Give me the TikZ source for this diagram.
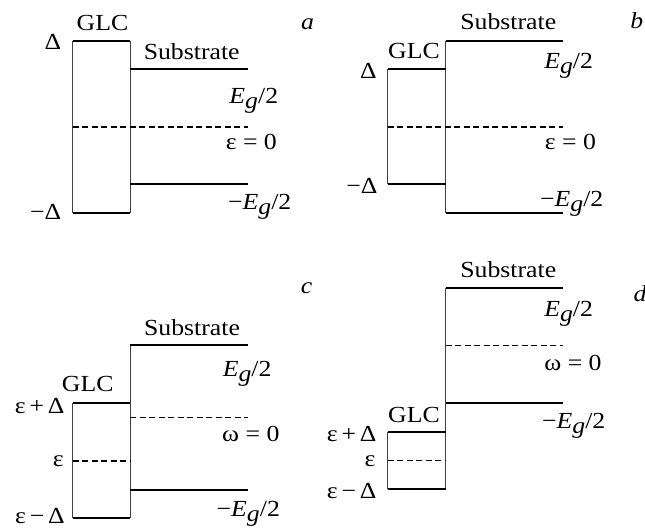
\documentclass[tikz,border=0pt]{standalone}
\usepackage{fontspec}
\setmainfont[FakeStretch=1.12]{Liberation Serif}
\usetikzlibrary{positioning}
\newcommand{\halfgap}{\textit{E}\raisebox{-0.45ex}{\textit{g}}/2}

\begin{document}
\begin{tikzpicture}[
    x=1pt, y=-1pt,
    level/.style={line width=1.7pt},
    wall/.style={line width=1pt, draw=black!75},
    zero/.style={line width=1.2pt, dash pattern=on 6pt off 3.5pt},
    lbl/.style={anchor=base, inner sep=0pt, font=\fontsize{23}{25}\selectfont},
    tag/.style={lbl, font=\fontsize{23}{25}\selectfont\itshape}
]
\useasboundingbox (0,0) rectangle (645,529);

% a
\draw[wall] (72.7,40.7) -- (72.7,213.3);
\draw[wall] (130,40.7) -- (130,213.3);
\draw[level] (72.7,40.7) -- (130,40.7);
\draw[level] (72.7,213.3) -- (130,213.3);
\draw[level] (130,69.3) -- (247.7,69.3);
\draw[level] (130,184.3) -- (247.7,184.3);
\draw[zero] (72.7,127) -- (247.7,127);
\node[lbl] (aglc) at (102.5,30.7) {GLC};
\node[lbl] (atop) at (53,50) {Δ};
\node[lbl] (abot) at (45.7,220) {−Δ};
\node[lbl] (asub) at (191.7,60) {Substrate};
\node[lbl] (aeg)  at (253.8,104) {\halfgap};
\node[lbl] (amid) at (251.3,150) {ε = 0};
\node[lbl] (aegm) at (259.7,210) {−\halfgap};
\node[tag] (atag) at (307.5,29.3) {a};

% b
\draw[wall] (387.7,69.3) -- (387.7,184.3);
\draw[wall] (445.7,40.7) -- (445.7,213.3);
\draw[level] (387.7,69.3) -- (445.7,69.3);
\draw[level] (387.7,184.3) -- (445.7,184.3);
\draw[level] (445.7,40.7) -- (563.3,40.7);
\draw[level] (445.7,213.3) -- (563.3,213.3);
\draw[zero] (387.7,127) -- (563.3,127);
\node[lbl] (bsub) at (508.3,30) {Substrate};
\node[lbl] (bglc) at (414,58.3) {GLC};
\node[lbl] (btop) at (368.5,79) {Δ};
\node[lbl] (bbot) at (362,193.3) {−Δ};
\node[lbl] (beg)  at (568.7,68.3) {\halfgap};
\node[lbl] (bmid) at (570.5,150) {ε = 0};
\node[lbl] (begm) at (571.7,206.7) {−\halfgap};
\node[tag] (btag) at (636.7,28.3) {b};

% c
\draw[wall] (72.7,403.3) -- (72.7,517.7);
\draw[wall] (130,345) -- (130,517.7);
\draw[level] (72.7,403.3) -- (130,403.3);
\draw[level] (72.7,517.7) -- (130,517.7);
\draw[level] (130,345) -- (247.7,345);
\draw[level] (130,490) -- (247.7,490);
\draw[zero] (72.7,461) -- (130,461);
\draw[zero] (130,417.3) -- (247.7,417.3);
\node[lbl] (csub) at (192,335) {Substrate};
\node[lbl] (cglc) at (87.7,391.7) {GLC};
\node[lbl] (ctop) at (39.7,413.3) {ε\,+\,Δ};
\node[lbl] (cmid) at (58.3,466) {ε};
\node[lbl] (cbot) at (40,523.3) {ε\,−\,Δ};
\node[lbl] (ceg)  at (247.2,376.7) {\halfgap};
\node[lbl] (czero) at (250.8,441.7) {ω = 0};
\node[lbl] (cegm) at (248.3,516.7) {−\halfgap};
\node[tag] (ctag) at (306.7,293.3) {c};

% d
\draw[wall] (387.7,432) -- (387.7,489);
\draw[wall] (445.7,287.7) -- (445.7,489);
\draw[level] (387.7,432) -- (445.7,432);
\draw[level] (387.7,489) -- (445.7,489);
\draw[level] (445.7,287.7) -- (562.7,287.7);
\draw[level] (445.7,402.7) -- (562.7,402.7);
\draw[zero] (387.7,460.7) -- (445.7,460.7);
\draw[zero] (445.7,345.7) -- (562.7,345.7);
\node[lbl] (dsub) at (508.3,277.3) {Substrate};
\node[lbl] (dglc) at (414,422.7) {GLC};
\node[lbl] (dtop) at (351.7,441.7) {ε\,+\,Δ};
\node[lbl] (dmid) at (370,466) {ε};
\node[lbl] (dbot) at (351.7,498.3) {ε\,−\,Δ};
\node[lbl] (deg)  at (568.7,316.7) {\halfgap};
\node[lbl] (dzero) at (573,370) {ω = 0};
\node[lbl] (degm) at (573.7,428.3) {−\halfgap};
\node[tag] (dtag) at (640,301.7) {d};
\end{tikzpicture}
\end{document}
